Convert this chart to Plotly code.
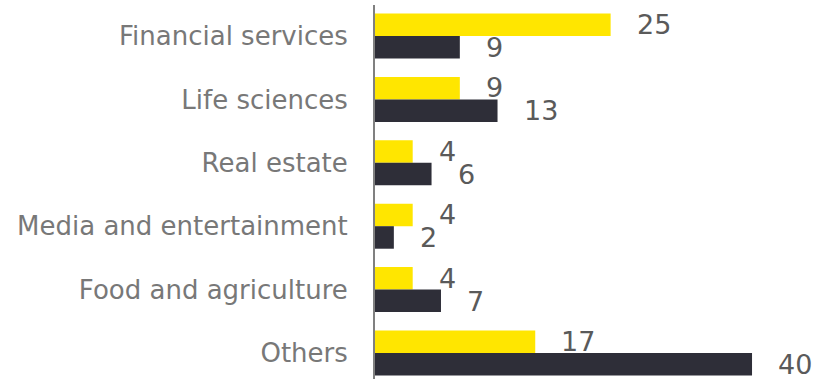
import plotly.graph_objects as go

# Sector counts: current (yellow) vs. comparison (dark)
categories = [
    "Financial services",
    "Life sciences",
    "Real estate",
    "Media and entertainment",
    "Food and agriculture",
    "Others",
]
series_a = [25, 9, 4, 4, 4, 17]
series_b = [9, 13, 6, 2, 7, 40]

YELLOW = "#FFE600"
DARK = "#2E2E38"
FONT = "DejaVu Sans"

fig = go.Figure()
fig.add_trace(go.Bar(y=categories, x=series_a, orientation="h",
                     marker=dict(color=YELLOW, line=dict(width=0)), name="A"))
fig.add_trace(go.Bar(y=categories, x=series_b, orientation="h",
                     marker=dict(color=DARK, line=dict(width=0)), name="B"))

# Value labels just beyond the end of each bar
for cat, va, vb in zip(categories, series_a, series_b):
    for val, shift in ((va, 11.5), (vb, -11.5)):
        fig.add_annotation(x=val, y=cat, text=str(val), showarrow=False,
                           xanchor="left", yanchor="middle",
                           xshift=24, yshift=shift,
                           font=dict(family=FONT, size=27, color="#5a5a5a"))

fig.update_layout(
    width=828, height=379,
    margin=dict(l=375, r=0, t=5, b=0),
    paper_bgcolor="white", plot_bgcolor="white",
    barmode="group", bargap=0.29, bargroupgap=0,
    showlegend=False,
    font=dict(family=FONT, color="#787878"),
)
fig.update_xaxes(range=[0, 48.06], visible=False, showgrid=False, zeroline=False)
fig.update_yaxes(
    range=[5.41, -0.489], showgrid=False, zeroline=False,
    showline=True, linecolor="#808080", linewidth=2,
    ticks="", ticklabelstandoff=20,
    tickfont=dict(family=FONT, size=26, color="#787878"),
)

fig.write_html("out.html")
